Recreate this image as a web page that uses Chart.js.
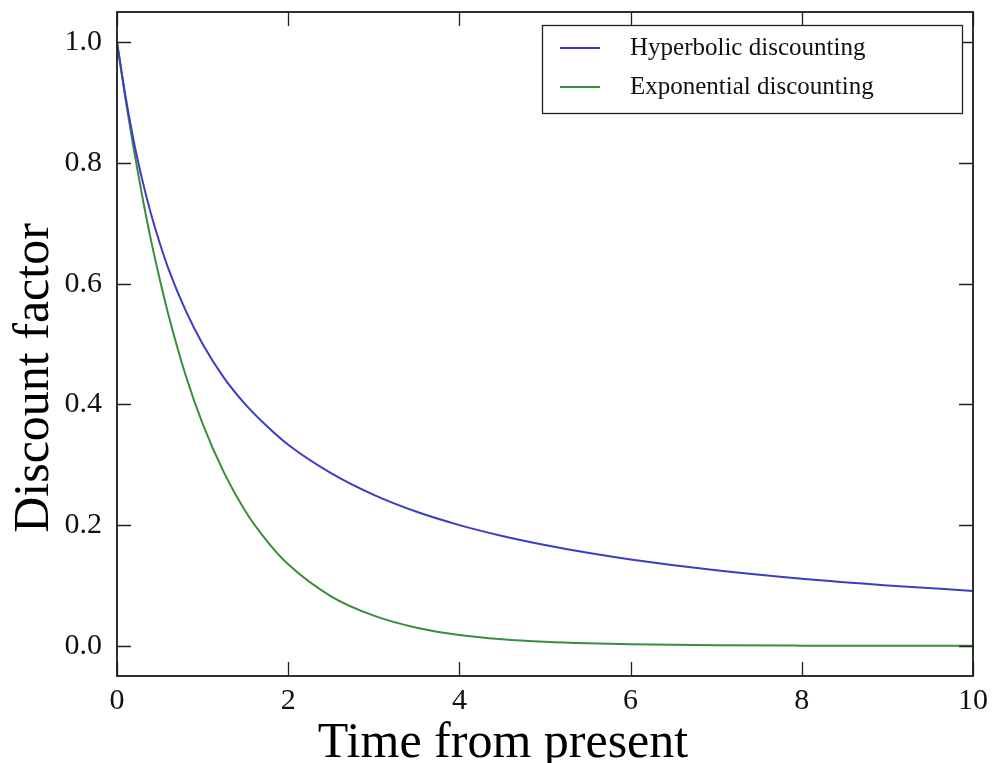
<!DOCTYPE html>
<html>
<head>
<meta charset="utf-8">
<script src="https://cdn.jsdelivr.net/npm/chart.js@4/dist/chart.umd.min.js"></script>
<style>
  html, body { margin: 0; padding: 0; background: #fff; }
  #wrap { width: 992px; height: 763px; }
</style>
</head>
<body>
<div id="wrap"><canvas id="c" width="992" height="763"></canvas></div>
<script>
// ---- data ----
const timeValues = [0, 0.1, 0.2, 0.3, 0.4, 0.5, 0.6, 0.8, 1.0, 1.25, 1.5, 1.75, 2.0, 2.5, 3.0, 3.5, 4.0, 4.5, 5.0, 5.5, 6.0, 7.0, 8.0, 9.0, 10.0];
const hyperbolicValues = [1.0, 0.91, 0.833, 0.769, 0.714, 0.667, 0.625, 0.556, 0.50, 0.444, 0.40, 0.364, 0.333, 0.286, 0.25, 0.222, 0.20, 0.182, 0.167, 0.154, 0.143, 0.125, 0.111, 0.10, 0.091];
const exponentialValues = [1.0, 0.905, 0.819, 0.741, 0.670, 0.607, 0.549, 0.449, 0.368, 0.287, 0.223, 0.174, 0.135, 0.082, 0.050, 0.030, 0.018, 0.011, 0.0067, 0.0041, 0.0025, 0.0009, 0.0003, 0.0001, 0.00005];
const xTickValues = [0, 2, 4, 6, 8, 10];
const yTickValues = [0.0, 0.2, 0.4, 0.6, 0.8, 1.0];
const seriesLabels = ['Hyperbolic discounting', 'Exponential discounting'];
const xAxisTitle = 'Time from present';
const yAxisTitle = 'Discount factor';

const FONT = '"Liberation Serif", "DejaVu Serif", serif';
const BLUE = '#3c3cc4';
const GREEN = '#3a8e3a';

const toPoints = (xs, ys) => xs.map((x, i) => ({ x: x, y: ys[i] }));

const decorPlugin = {
  id: 'decor',
  afterDatasetsDraw(chart) {
    const ctx = chart.ctx;
    const a = chart.chartArea;
    const xs = chart.scales.x, ys = chart.scales.y;
    ctx.save();
    // inner ticks on all four sides
    ctx.strokeStyle = '#222';
    ctx.lineWidth = 1.3;
    const TL = 14;
    ctx.beginPath();
    xTickValues.forEach(v => {
      const px = Math.round(xs.getPixelForValue(v)) + 0.5;
      ctx.moveTo(px, a.bottom); ctx.lineTo(px, a.bottom - TL);
      ctx.moveTo(px, a.top); ctx.lineTo(px, a.top + TL);
    });
    yTickValues.forEach(v => {
      const py = Math.round(ys.getPixelForValue(v)) + 0.5;
      ctx.moveTo(a.left, py); ctx.lineTo(a.left + TL, py);
      ctx.moveTo(a.right, py); ctx.lineTo(a.right - TL, py);
    });
    ctx.stroke();
    // frame
    ctx.lineWidth = 1.8;
    ctx.strokeStyle = '#1a1a1a';
    ctx.strokeRect(a.left, a.top, a.right - a.left, a.bottom - a.top);

    // legend
    const lx = a.right - 431, ly = a.top + 13, lw = 420, lh = 88;
    ctx.fillStyle = '#fff';
    ctx.fillRect(lx, ly, lw, lh);
    ctx.lineWidth = 1.3;
    ctx.strokeStyle = '#222';
    ctx.strokeRect(lx + 0.5, ly + 0.5, lw, lh);
    chart.data.datasets.forEach((ds, i) => {
      const yy = ly + 23 + i * 39;
      ctx.strokeStyle = ds.borderColor;
      ctx.lineWidth = 2;
      ctx.beginPath();
      ctx.moveTo(lx + 18, yy); ctx.lineTo(lx + 58, yy);
      ctx.stroke();
      ctx.fillStyle = '#111';
      ctx.font = '25px ' + FONT;
      ctx.textBaseline = 'middle';
      ctx.textAlign = 'left';
      ctx.fillText(ds.label, lx + 88, yy);
    });

    // axis titles
    ctx.fillStyle = '#000';
    ctx.font = '50px ' + FONT;
    ctx.textBaseline = 'alphabetic';
    ctx.textAlign = 'center';
    ctx.fillText(xAxisTitle, (a.left + a.right) / 2 - 42, 757);
    ctx.translate(48, (a.top + a.bottom) / 2 + 34);
    ctx.rotate(-Math.PI / 2);
    ctx.fillText(yAxisTitle, 0, 0);
    ctx.restore();
  }
};

new Chart(document.getElementById('c'), {
  type: 'line',
  data: {
    datasets: [
      { label: seriesLabels[0], data: toPoints(timeValues, hyperbolicValues), borderColor: BLUE, borderWidth: 2, pointRadius: 0, fill: false, cubicInterpolationMode: 'monotone' },
      { label: seriesLabels[1], data: toPoints(timeValues, exponentialValues), borderColor: GREEN, borderWidth: 2, pointRadius: 0, fill: false, cubicInterpolationMode: 'monotone' }
    ]
  },
  options: {
    responsive: false,
    animation: false,
    layout: { padding: { left: 0, right: 19, top: 12, bottom: 0 } },
    plugins: { legend: { display: false }, tooltip: { enabled: false } },
    scales: {
      x: {
        type: 'linear', min: 0, max: 10,
        afterBuildTicks: s => { s.ticks = xTickValues.map(v => ({ value: v })); },
        afterFit: s => { s.height = 87; s.paddingLeft = 0; s.paddingRight = 0; },
        grid: { display: false, drawTicks: false },
        border: { display: false },
        ticks: { color: '#111', font: { family: FONT, size: 30 }, padding: 7, maxRotation: 0, autoSkip: false, callback: v => String(v) }
      },
      y: {
        type: 'linear', min: -0.05, max: 1.05,
        afterBuildTicks: s => { s.ticks = yTickValues.map(v => ({ value: v })); },
        afterFit: s => { s.width = 117; s.paddingTop = 0; s.paddingBottom = 0; },
        grid: { display: false, drawTicks: false },
        border: { display: false },
        ticks: { color: '#111', font: { family: FONT, size: 30 }, padding: 15, autoSkip: false, callback: v => Number(v).toFixed(1) }
      }
    }
  },
  plugins: [decorPlugin]
});
</script>
</body>
</html>
